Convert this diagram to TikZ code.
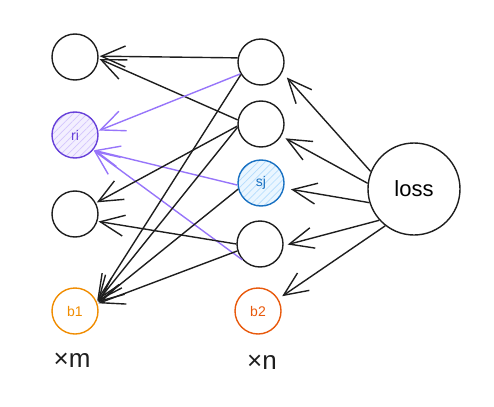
\documentclass[tikz,border=0pt]{standalone}
\usepackage{fontspec}
\setmainfont{Liberation Sans}
\usepackage{tikz}
\usetikzlibrary{arrows.meta,patterns.meta}
\definecolor{inkblack}{HTML}{1E1E1E}
\definecolor{riviolet}{HTML}{6741D9}
\definecolor{rifill}{HTML}{B197FC}
\definecolor{rarrow}{HTML}{9775FA}
\definecolor{sjblue}{HTML}{1971C2}
\definecolor{sjfill}{HTML}{74C0FC}
\definecolor{bone}{HTML}{F08C00}
\definecolor{btwo}{HTML}{E8590C}

\begin{document}
\begin{tikzpicture}[x=1pt, y=-1pt, line width=1.4pt,
		unit/.style={circle, draw=inkblack, minimum size=46pt, inner sep=0pt, font=\fontsize{14}{16}\selectfont},
		hatched/.style={preaction={fill=#1!15}, pattern={Lines[angle=45,distance=5pt,line width=0.7pt]}, pattern color=#1!55},
		edge/.style={draw=inkblack, -{Straight Barb[length=24pt,width=21pt]}, shorten >=1pt},
		redge/.style={edge, draw=rarrow}]
		\useasboundingbox (0,0) rectangle (494,406);
		% left layer
		\node[unit] (in1) at (75,57) {};
		\node[unit, draw=riviolet, text=riviolet, hatched=rifill] (ri) at (75,135) {ri};
		\node[unit] (in3) at (75,214) {};
		\node[unit, draw=bone, text=bone] (b1) at (75,311) {b1};
		\node[font=\fontsize{26}{30}\selectfont, text=inkblack] (tm) at (72,360) {×m};
		% middle layer
		\node[unit] (hid1) at (261,62) {};
		\node[unit] (hid2) at (261,124) {};
		\node[unit, draw=sjblue, text=sjblue, hatched=sjfill] (sj) at (261,183) {sj};
		\node[unit] (hid4) at (260,244) {};
		\node[unit, draw=btwo, text=btwo] (b2) at (258,311) {b2};
		\node[font=\fontsize{26}{30}\selectfont, text=inkblack] (tn) at (262,362) {×n};
		% loss
		\node[circle, draw=inkblack, minimum size=92pt, inner sep=0pt, font=\fontsize{22}{26}\selectfont] (loss) at (414,189) {loss};
		% into the left layer
		\draw[edge] (hid1.170) -- (in1.2);
		\draw[edge] (hid2.170) -- (in1.-4);
		\draw[redge] (hid1.210) -- (ri.10);
		\draw[redge] (sj.185) -- (ri.-40);
		\draw[redge] (hid4.222) -- (ri.-40);
		\draw[edge] (hid2.185) -- (in3.28);
		\draw[edge] (hid4.180) -- (in3.-18);
		\draw[edge] (hid1.212) -- (b1.24);
		\draw[edge] (hid2.188) -- (b1.22);
		\draw[edge] (sj.195) -- (b1.20);
		\draw[edge] (hid4.197) -- (b1.18);
		% from loss
		\draw[edge] (loss.158) -- ([shift={(4pt,-4pt)}]hid1.-27);
		\draw[edge] (loss.173) -- ([shift={(3pt,-2pt)}]hid2.-30);
		\draw[edge] (loss.197) -- ([shift={(6pt,0pt)}]sj.-15);
		\draw[edge] (loss.222) -- ([shift={(3pt,0pt)}]hid4.-2);
		\draw[edge] (loss.232) -- ([shift={(3pt,2pt)}]b2.31);
	\end{tikzpicture}
\end{document}
